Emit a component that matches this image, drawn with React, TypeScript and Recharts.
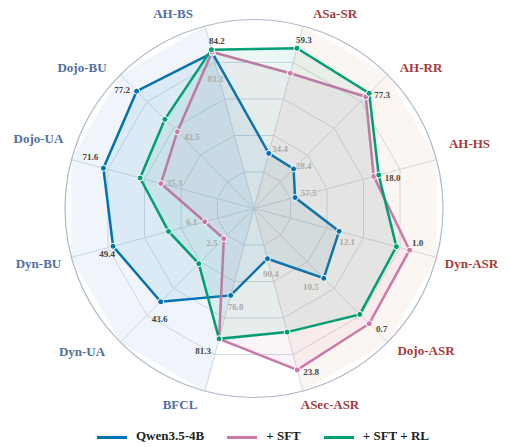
import React from 'react';
import { RadarChart, Radar, PolarGrid, PolarAngleAxis, PolarRadiusAxis } from 'recharts';

// ---------- data ----------
const categories = ['AH-BS', 'ASa-SR', 'AH-RR', 'AH-HS', 'Dyn-ASR', 'Dojo-ASR', 'ASec-ASR', 'BFCL', 'Dyn-UA', 'Dyn-BU', 'Dojo-UA', 'Dojo-BU'];
const groups = ['user', 'attack', 'attack', 'attack', 'attack', 'attack', 'attack', 'user', 'user', 'user', 'user', 'user'];

// normalised scores (0-100) as drawn on each axis
const baseScores = [85.2, 30.2, 29.6, 22.5, 46.6, 52.2, 27.5, 47.6, 69.8, 77.2, 82.5, 87.8];
const sftScores = [85.7, 74.1, 83.6, 65.6, 85.2, 86.2, 88.4, 71.4, 22.6, 27.0, 51.0, 57.4];
const rlScores = [87.0, 87.8, 86.2, 68.3, 78.0, 79.2, 67.7, 71.4, 41.3, 46.8, 62.4, 66.7];

// raw value labels
const bestLabels = ['84.2', '59.3', '77.3', '18.0', '1.0', '0.7', '23.8', '81.3', '43.6', '49.4', '71.6', '77.2'];
const bestOwner = ['rl', 'rl', 'rl', 'rl', 'sft', 'sft', 'sft', 'rl', 'base', 'base', 'base', 'base'];
const worstLabels = ['83.3', '34.4', '28.4', '57.5', '12.1', '10.5', '90.4', '76.0', '2.5', '6.1', '35.3', '42.5'];
const worstOwner = ['base', 'base', 'base', 'base', 'base', 'base', 'base', 'base', 'sft', 'sft', 'sft', 'sft'];

const seriesNames = ['Qwen3.5-4B', '+ SFT', '+ SFT + RL'];

const rows = categories.map((c, i) => ({
  name: c,
  base: baseScores[i],
  sft: sftScores[i],
  rl: rlScores[i],
  bgUser: groups[i] === 'user' ? 100 : 0,
  bgAttack: groups[i] === 'attack' ? 100 : 0,
}));

// ---------- layout / style ----------
const W = 510;
const H = 447;
const CX = 254;
const CY = 208.5;
const R = 189;
const FONT = "'Times New Roman', 'Liberation Serif', serif";
const COLORS: Record<string, string> = { base: '#0072B2', sft: '#CC79A7', rl: '#009E73' };

const axisLabelOffsets: [number, number][] = [
  [-81, -195.5], [81, -195.5], [167, -141.5], [215.5, -65.5], [217.5, 54.5], [172, 141.5],
  [76, 195.5], [-74, 195.5], [-172, 142.5], [-215.5, 54.5], [-215.5, -70.5], [-172, -141.5],
];
const bestOffsets: [number, number][] = [
  [5.5, -9], [7, -8], [13, 2], [14, 2.5], [8, -7.5], [12.5, 5], [14, 2.5], [-16, 12], [-1, 17], [-6, 8], [-13, -11.5], [-14.5, -1.5],
];
const worstOffsets: [number, number][] = [
  [3, 26], [11, -4], [10, -3], [13.5, -4], [8, 11], [-13, 9], [3.5, 15], [5, 12], [-12, 4], [-13, 0], [13.5, -1], [14.5, 5],
];

const AxisTick = (props: any) => {
  const value = props.payload?.value;
  const i = categories.indexOf(value);
  if (i < 0) return null;
  const [dx, dy] = axisLabelOffsets[i];
  const color = groups[i] === 'user' ? '#51709e' : '#a53b3c';
  return (
    <text x={CX + dx} y={CY + dy} textAnchor="middle" dominantBaseline="central"
      fontFamily={FONT} fontWeight="bold" fontSize={13} fill={color}>
      {value}
    </text>
  );
};

const makeDot = (key: string) => (props: any) => {
  const { cx, cy } = props;
  let i = props.index;
  if (i === undefined && props.payload) i = categories.indexOf(props.payload.name);
  const color = COLORS[key];
  return (
    <g key={`${key}-dot-${i}`}>
      <circle cx={cx} cy={cy} r={3} fill={color} stroke="#ffffff" strokeWidth={1} />
      {bestOwner[i] === key && (
        <text x={cx + bestOffsets[i][0]} y={cy + bestOffsets[i][1]} textAnchor="middle" dominantBaseline="central"
          fontFamily={FONT} fontWeight="bold" fontSize={9} fill="#444444">
          {bestLabels[i]}
        </text>
      )}
      {worstOwner[i] === key && (
        <text x={cx + worstOffsets[i][0]} y={cy + worstOffsets[i][1]} textAnchor="middle" dominantBaseline="central"
          fontFamily={FONT} fontWeight="bold" fontSize={9} fill="#aaaaaa">
          {worstLabels[i]}
        </text>
      )}
    </g>
  );
};

const LegendSwatch = ({ color, label }: { color: string; label: string }) => (
  <div style={{ display: 'flex', alignItems: 'center', marginRight: 23 }}>
    <div style={{ width: 30, height: 3.5, background: color, marginRight: 9, marginTop: 3 }} />
    <span style={{ fontFamily: FONT, fontWeight: 'bold', fontSize: 13, color: '#222' }}>{label}</span>
  </div>
);

export default function App() {
  return (
    <div style={{ position: 'absolute', left: 0, top: 0, width: W, height: H, background: '#ffffff' }}>
      <RadarChart width={W} height={H} data={rows} cx={CX} cy={CY} outerRadius={R}
        startAngle={105} endAngle={-255} margin={{ top: 0, right: 0, bottom: 0, left: 0 }}>
        <Radar dataKey="bgUser" stroke="none" fill="#a8c8e8" fillOpacity={0.18} dot={false} isAnimationActive={false} legendType="none" />
        <Radar dataKey="bgAttack" stroke="none" fill="#e8bca6" fillOpacity={0.14} dot={false} isAnimationActive={false} legendType="none" />
        <PolarGrid gridType="polygon" polarRadius={[37.8, 75.6, 113.4, 151.2]} stroke="#d2dae3" strokeWidth={1} />
        <PolarGrid gridType="circle" polarRadius={[R]} radialLines={false} stroke="#aeb8ca" strokeWidth={1.2} />
        <PolarRadiusAxis domain={[0, 100]} tick={false} axisLine={false} />
        <PolarAngleAxis dataKey="name" tick={<AxisTick />} tickLine={false} axisLine={false} />
        <Radar name={seriesNames[0]} dataKey="base" stroke={COLORS.base} strokeWidth={2.5} fill={COLORS.base} fillOpacity={0.08}
          dot={makeDot('base')} isAnimationActive={false} />
        <Radar name={seriesNames[1]} dataKey="sft" stroke={COLORS.sft} strokeWidth={2.5} fill={COLORS.sft} fillOpacity={0.08}
          dot={makeDot('sft')} isAnimationActive={false} />
        <Radar name={seriesNames[2]} dataKey="rl" stroke={COLORS.rl} strokeWidth={2.5} fill={COLORS.rl} fillOpacity={0.08}
          dot={makeDot('rl')} isAnimationActive={false} />
      </RadarChart>
      <div style={{ position: 'absolute', left: 97, top: 428, display: 'flex', alignItems: 'center' }}>
        <LegendSwatch color={COLORS.base} label={seriesNames[0]} />
        <LegendSwatch color={COLORS.sft} label={seriesNames[1]} />
        <LegendSwatch color={COLORS.rl} label={seriesNames[2]} />
      </div>
    </div>
  );
}
